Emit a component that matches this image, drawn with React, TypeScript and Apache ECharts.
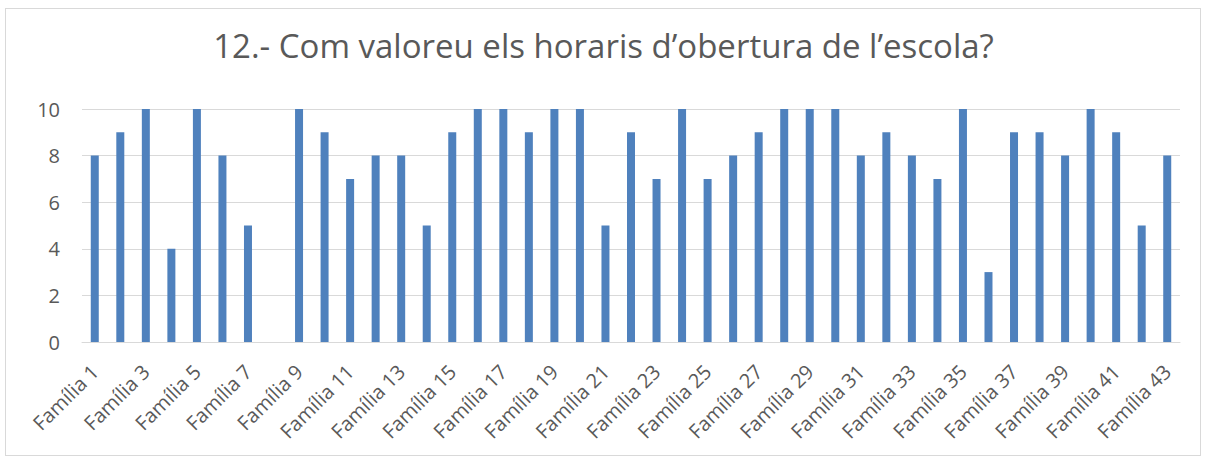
import React, { useEffect, useRef } from "react";
import * as echarts from "echarts";

const categories: string[] = Array.from({ length: 43 }, (_, i) => `Família ${i + 1}`);
const values: number[] = [
  8, 9, 10, 4, 10, 8, 5, 0, 10, 9,
  7, 8, 8, 5, 9, 10, 10, 9, 10, 10,
  5, 9, 7, 10, 7, 8, 9, 10, 10, 10,
  8, 9, 8, 7, 10, 3, 9, 9, 8, 10,
  9, 5, 8,
];
const yTicks = { min: 0, max: 10, interval: 2 };
const title = "12.- Com valoreu els horaris d’obertura de l’escola?";

export default function App() {
  const ref = useRef<HTMLDivElement>(null);
  useEffect(() => {
    document.body.style.margin = "0";
    const chart = echarts.init(ref.current!, null, { renderer: "svg" });
    chart.setOption({
      animation: false,
      backgroundColor: "#ffffff",
      title: {
        text: title,
        left: "center",
        top: 24,
        textStyle: { fontFamily: "Open Sans", fontSize: 33, fontWeight: "normal", color: "#595959" },
      },
      grid: { left: 82, right: 27, top: 109, bottom: 119, outerBoundsMode: "none" },
      xAxis: {
        type: "category",
        data: categories,
        axisLine: { lineStyle: { color: "#d9d9d9", width: 1 } },
        axisTick: { show: false },
        axisLabel: {
          interval: 1,
          rotate: 45,
          fontFamily: "Open Sans",
          fontSize: 20,
          color: "#595959",
          margin: 26,
        },
      },
      yAxis: {
        type: "value",
        min: yTicks.min,
        max: yTicks.max,
        interval: yTicks.interval,
        axisLine: { show: false },
        axisTick: { show: false },
        splitLine: { lineStyle: { color: "#d9d9d9", width: 1 } },
        axisLabel: { fontFamily: "Open Sans", fontSize: 20, color: "#595959", margin: 22 },
      },
      series: [
        {
          type: "bar",
          data: values,
          barWidth: 8,
          itemStyle: { color: "#4f81bd" },
        },
      ],
    });
    return () => chart.dispose();
  }, []);
  return (
    <div style={{ position: "relative", width: 1207, height: 461, background: "#fff" }}>
      <div ref={ref} style={{ position: "absolute", left: 0, top: 0, width: 1207, height: 461 }} />
      <div
        style={{
          position: "absolute",
          left: 5,
          top: 8,
          width: 1194,
          height: 446,
          border: "1px solid #d9d9d9",
          pointerEvents: "none",
        }}
      />
    </div>
  );
}
